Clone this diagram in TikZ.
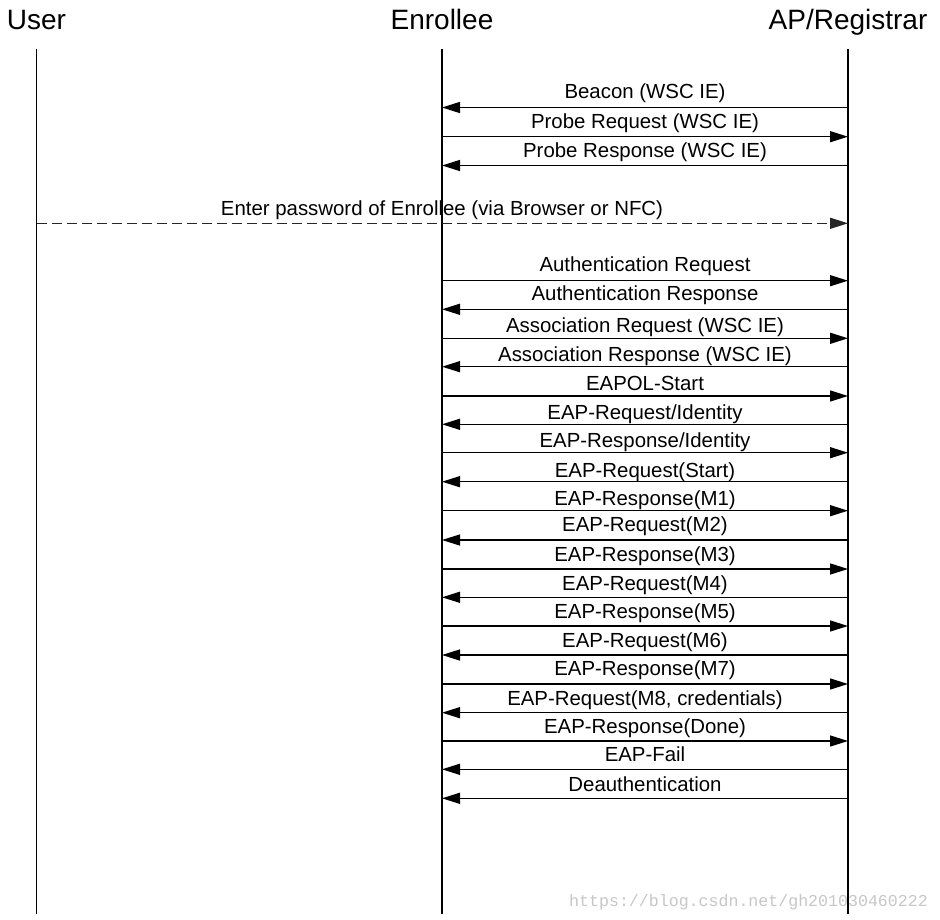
\documentclass[tikz,border=0pt]{standalone}
\usepackage{fontspec}
\setmainfont{Liberation Sans}
\newfontfamily\wmfont{Liberation Mono}
\usetikzlibrary{arrows.meta}
\begin{document}
\begin{tikzpicture}[x=1pt,y=-1pt,
  head/.style={anchor=base,inner sep=0pt,font=\fontsize{28}{32}\selectfont},
  msg/.style={anchor=base,inner sep=0pt,font=\fontsize{20.4}{24}\selectfont},
  life/.style={line width=1.5pt,black},
  msgline/.style={line width=1.4pt,black},
  toA/.style={-{Triangle[length=18pt,width=11pt]}},
  toE/.style={{Triangle[length=18pt,width=11pt]}-},
  wm/.style={anchor=base west,inner sep=0pt,text=black!22,font=\wmfont\fontsize{16.6}{20}\selectfont}
]
\useasboundingbox (0,0) rectangle (940,920);
\fill[white] (0,0) rectangle (940,920);

% watermark
\node[wm] (wmark) at (569,906) {https://blog.csdn.net/gh201030460222};

% headers
\node[head] (hU) at (36.5,30) {User};
\node[head] (hE) at (442,30) {Enrollee};
\node[head] (hA) at (848,30) {AP/Registrar};

% lifelines
\coordinate (uTop) at (36.5,49);
\coordinate (uBot) at (36.5,914);
\coordinate (eTop) at (442,49);
\coordinate (eBot) at (442,914);
\coordinate (aTop) at (848,49);
\coordinate (aBot) at (848,914);
\draw[life] (uTop) -- (uBot);
\draw[life] (eTop) -- (eBot);
\draw[life] (aTop) -- (aBot);

% messages between Enrollee and AP/Registrar
\foreach \i/\ly/\by/\dir/\txt in {
  1/107.5/98.5/toE/{Beacon (WSC IE)},
  2/136.7/129/toA/{Probe Request (WSC IE)},
  3/165.5/158/toE/{Probe Response (WSC IE)},
  5/280.7/272/toA/{Authentication Request},
  6/309.3/301/toE/{Authentication Response},
  7/338.3/332/toA/{Association Request (WSC IE)},
  8/366.7/361/toE/{Association Response (WSC IE)},
  9/396/390/toA/{EAPOL-Start},
  10/424.3/419.3/toE/{EAP-Request/Identity},
  11/452.7/447.5/toA/{EAP-Response/Identity},
  12/481.7/477.5/toE/{EAP-Request(Start)},
  13/510.7/505/toA/{EAP-Response(M1)},
  14/540/531/toE/{EAP-Request(M2)},
  15/569/561.7/toA/{EAP-Response(M3)},
  16/597.3/590/toE/{EAP-Request(M4)},
  17/626/618.3/toA/{EAP-Response(M5)},
  18/655/647.3/toE/{EAP-Request(M6)},
  19/684/675.5/toA/{EAP-Response(M7)},
  20/712.7/705/toE/{EAP-Request(M8, credentials)},
  21/741/733.3/toA/{EAP-Response(Done)},
  22/769.3/761.7/toE/{EAP-Fail},
  23/798.3/791.7/toE/{Deauthentication}} {
  \coordinate (E\i) at (442,\ly);
  \coordinate (A\i) at (848,\ly);
  \node[msg] (L\i) at (645,\by) {\txt};
  \draw[msgline,\dir] (E\i) -- (A\i);
}

% user message (dashed)
\coordinate (U4) at (36.5,223.3);
\coordinate (A4) at (848,223.3);
\node[msg] (L4) at (442,216) {Enter password of Enrollee (via Browser or NFC)};
\draw[msgline,toA,dash pattern=on 10pt off 5pt,black!85] (U4) -- (A4);
\end{tikzpicture}
\end{document}
